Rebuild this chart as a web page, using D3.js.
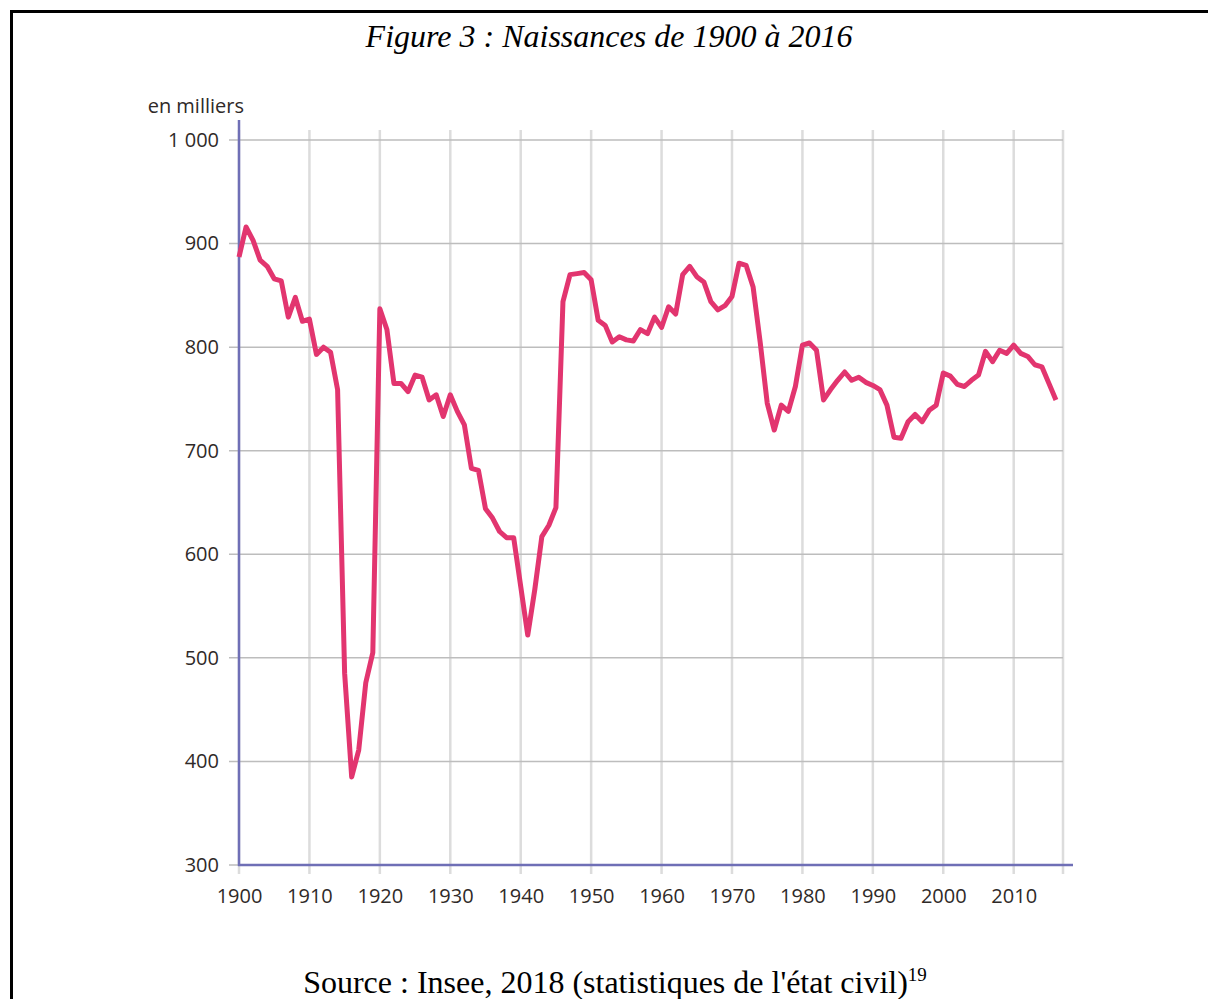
<!DOCTYPE html>
<html>
<head>
<meta charset="utf-8">
<script src="https://cdn.jsdelivr.net/npm/d3@7"></script>
<style>
  body { margin: 0; background: white; }
  svg { display: block; }
</style>
</head>
<body>
<script>
// Births in metropolitan France, thousands
const firstYear = 1900;
const births = [
  887, 916, 903, 884, 878, 866, 864, 829, 848, 825,   // 1900-1909
  827, 793, 800, 795, 759, 485, 385, 411, 476, 505,   // 1910-1919
  837, 817, 765, 765, 757, 773, 771, 749, 754, 733,   // 1920-1929
  754, 738, 725, 683, 681, 644, 635, 622, 616, 616,   // 1930-1939
  569, 522, 566, 617, 628, 645, 844, 870, 871, 872,   // 1940-1949
  865, 826, 821, 805, 810, 807, 806, 817, 813, 829,   // 1950-1959
  819, 839, 832, 870, 878, 868, 863, 844, 836, 840,   // 1960-1969
  849, 881, 879, 858, 805, 746, 720, 744, 738, 762,   // 1970-1979
  802, 804, 797, 749, 759, 768, 776, 768, 771, 766,   // 1980-1989
  763, 759, 744, 713, 712, 728, 735, 728, 739, 744,   // 1990-1999
  775, 772, 764, 762, 768, 773, 796, 786, 797, 794,   // 2000-2009
  802, 794, 791, 783, 781, 765, 749                   // 2010-2016
];
const years = births.map((d, i) => firstYear + i);

const xTicks = [1900, 1910, 1920, 1930, 1940, 1950, 1960, 1970, 1980, 1990, 2000, 2010];
const xGridEnd = 2017;
const yTicks = [300, 400, 500, 600, 700, 800, 900, 1000];

const data = years.map((y, i) => ({year: y, value: births[i]}));

const outerWidth = 1208, outerHeight = 999;
const svg = d3.select("body").append("svg")
    .attr("width", outerWidth)
    .attr("height", outerHeight);

// page frame (top and left edges only)
svg.append("path")
    .attr("d", "M11.5,999 L11.5,11.5 L1208,11.5")
    .attr("fill", "none")
    .attr("stroke", "black")
    .attr("stroke-width", 3);

// Title
svg.append("text")
    .text("Figure 3 : Naissances de 1900 à 2016")
    .attr("x", 609)
    .attr("y", 47)
    .style("text-anchor", "middle")
    .style("font-family", "'Liberation Serif', 'Times New Roman', serif")
    .style("font-style", "italic")
    .style("font-size", "32px")
    .style("fill", "black");

// Scales
const xScale = d3.scaleLinear()
    .domain([1900, xGridEnd])
    .range([239, 1063]);
const yScale = d3.scaleLinear()
    .domain([300, 1000])
    .range([865, 140]);

const tickFont = "'Open Sans', 'Noto Sans', sans-serif";
const tickColor = "#2f2a28";

// vertical grid
svg.append("g")
    .selectAll("line")
    .data(xTicks.concat([xGridEnd]))
    .join("line")
    .attr("x1", d => xScale(d))
    .attr("x2", d => xScale(d))
    .attr("y1", 130)
    .attr("y2", 874)
    .attr("stroke", "#dcdcdc")
    .attr("stroke-width", 2.5);

// horizontal grid
svg.append("g")
    .selectAll("line")
    .data(yTicks)
    .join("line")
    .attr("x1", 229)
    .attr("x2", xScale(xGridEnd))
    .attr("y1", d => yScale(d))
    .attr("y2", d => yScale(d))
    .attr("stroke", "#bdbdbd")
    .attr("stroke-width", 1.5);

// Axes (labels from the axis generators)
const yAxis = d3.axisLeft(yScale)
    .tickValues(yTicks)
    .tickSize(0)
    .tickPadding(20)
    .tickFormat(d => d3.format(",")(d).replace(",", " "));
const yAxisGroup = svg.append("g")
    .attr("transform", "translate(239,0)")
    .call(yAxis);
yAxisGroup.select(".domain").remove();
yAxisGroup.selectAll("text")
    .style("font-family", tickFont)
    .style("font-size", "20px")
    .style("fill", tickColor);

const xAxis = d3.axisBottom(xScale)
    .tickValues(xTicks)
    .tickSize(0)
    .tickPadding(24)
    .tickFormat(d3.format("d"));
const xAxisGroup = svg.append("g")
    .attr("transform", "translate(0,865)")
    .call(xAxis);
xAxisGroup.select(".domain").remove();
xAxisGroup.selectAll("text")
    .style("font-family", tickFont)
    .style("font-size", "20px")
    .style("fill", tickColor);

// axis lines
svg.append("line")
    .attr("x1", 239).attr("x2", 239)
    .attr("y1", 120).attr("y2", 866)
    .attr("stroke", "#6f6fb6")
    .attr("stroke-width", 2.5);
svg.append("line")
    .attr("x1", 238).attr("x2", 1073)
    .attr("y1", 865).attr("y2", 865)
    .attr("stroke", "#6f6fb6")
    .attr("stroke-width", 2.5);

// unit label
svg.append("text")
    .text("en milliers")
    .attr("x", 244)
    .attr("y", 113)
    .style("text-anchor", "end")
    .style("font-family", tickFont)
    .style("font-size", "20px")
    .style("fill", tickColor);

// Plot line
const line = d3.line()
    .x(d => xScale(d.year))
    .y(d => yScale(d.value));

svg.append("path")
    .datum(data)
    .attr("fill", "none")
    .attr("stroke", "#e2356f")
    .attr("stroke-width", 5)
    .attr("stroke-linejoin", "round")
    .attr("d", line);

// Source
const source = svg.append("text")
    .attr("x", 615)
    .attr("y", 993)
    .style("text-anchor", "middle")
    .style("font-family", "'Liberation Serif', 'Times New Roman', serif")
    .style("font-size", "32px")
    .style("fill", "black");
source.append("tspan").text("Source : Insee, 2018 (statistiques de l'état civil)");
source.append("tspan")
    .text("19")
    .attr("dy", -12)
    .style("font-size", "19px");
</script>
</body>
</html>
